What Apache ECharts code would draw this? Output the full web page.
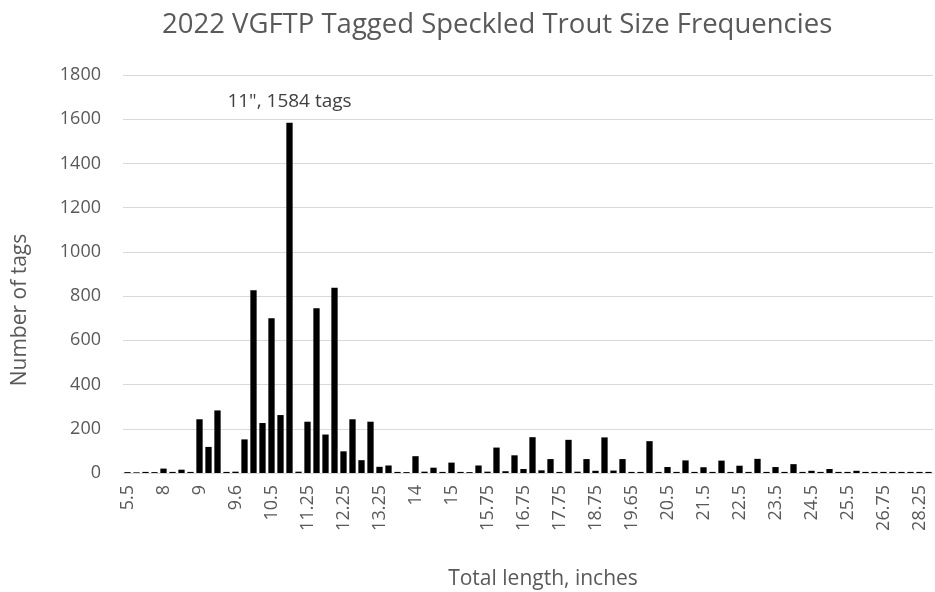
<!DOCTYPE html>
<html>
<head>
<meta charset="utf-8">
<script src="https://cdn.jsdelivr.net/npm/echarts@6/dist/echarts.min.js"></script>
<style>
  html, body { margin: 0; padding: 0; background: #fff; }
  #chart { width: 935px; height: 592px; }
</style>
</head>
<body>
<div id="chart"></div>
<script>
// size classes (inches), one per bar
const lengths = [
  '5.5', '6', '7', '7.5', '8', '8.25', '8.5', '8.75', '9', '9.1',
  '9.25', '9.4', '9.6', '9.75', '10', '10.25', '10.5', '10.75', '11', '11.1',
  '11.25', '11.5', '11.75', '12', '12.25', '12.5', '12.75', '13', '13.25', '13.5',
  '13.6', '13.75', '14', '14.25', '14.5', '14.75', '15', '15.25', '15.5', '15.6',
  '15.75', '16', '16.25', '16.5', '16.75', '17', '17.25', '17.5', '17.75', '18',
  '18.25', '18.5', '18.75', '19', '19.25', '19.5', '19.65', '19.75', '20', '20.25',
  '20.5', '20.75', '21', '21.25', '21.5', '21.75', '22', '22.25', '22.5', '22.75',
  '23', '23.25', '23.5', '23.75', '24', '24.25', '24.5', '24.75', '25', '25.25',
  '25.5', '26', '26.25', '26.5', '26.75', '27', '27.25', '27.75', '28.25', '29'
]

// number of tags per size class
const tags = [
  4, 3, 5, 4, 20, 5, 15, 5, 243, 118,
  283, 5, 6, 152, 826, 226, 700, 262, 1584, 6,
  232, 745, 174, 838, 98, 243, 58, 232, 28, 34,
  5, 4, 76, 6, 24, 5, 47, 5, 4, 34,
  6, 115, 8, 80, 18, 162, 12, 63, 5, 150,
  6, 63, 10, 161, 11, 63, 5, 5, 144, 5,
  27, 5, 57, 5, 26, 5, 56, 5, 33, 5,
  64, 5, 27, 5, 40, 5, 10, 5, 18, 5,
  5, 10, 5, 5, 5, 5, 5, 5, 5, 5
]

const yTicks = [0, 1800, 200]  // min, max, step
const peakIndex = 18
const peakText = '11", 1584 tags'

const font = 'Open Sans'
const textColor = '#595959'

let chart = echarts.init(document.getElementById('chart'))

const barData = tags.map((v, i) => {
  if (i !== peakIndex) return v
  return {
    value: v,
    label: {
      show: true,
      position: 'top',
      distance: 12,
      formatter: peakText,
      color: '#404040',
      fontFamily: font,
      fontSize: 19
    }
  }
})

const option = {
  animation: false,
  title: {
    text: '2022 VGFTP Tagged Speckled Trout Size Frequencies',
    left: 157,
    top: 6,
    textStyle: {
      color: textColor,
      fontFamily: font,
      fontSize: 27.5,
      fontWeight: 'normal'
    }
  },
  grid: {
    left: 123,
    right: 2,
    top: 75,
    bottom: 119,
    outerBoundsMode: 'none'
  },
  xAxis: {
    type: 'category',
    data: lengths,
    name: 'Total length, inches',
    nameLocation: 'middle',
    nameGap: 96,
    nameTextStyle: { color: textColor, fontFamily: font, fontSize: 21, padding: [0, 0, 0, 30] },
    axisLine: { lineStyle: { color: '#d9d9d9', width: 1 } },
    axisTick: { show: false },
    axisLabel: {
      interval: 3,
      rotate: 90,
      margin: 12,
      color: textColor,
      fontFamily: font,
      fontSize: 18
    }
  },
  yAxis: {
    type: 'value',
    min: yTicks[0],
    max: yTicks[1],
    interval: yTicks[2],
    name: 'Number of tags',
    nameLocation: 'middle',
    nameGap: 92,
    nameTextStyle: { color: textColor, fontFamily: font, fontSize: 21, padding: [0, 72, 0, 0] },
    axisLine: { show: false },
    axisTick: { show: false },
    axisLabel: {
      margin: 22,
      formatter: v => String(v),
      color: textColor,
      fontFamily: font,
      fontSize: 18
    },
    splitLine: { lineStyle: { color: '#d9d9d9', width: 1 } }
  },
  series: [
    {
      type: 'bar',
      data: barData,
      barCategoryGap: '30%',
      itemStyle: { color: '#000000' }
    }
  ]
}

chart.setOption(option)
</script>
</body>
</html>
